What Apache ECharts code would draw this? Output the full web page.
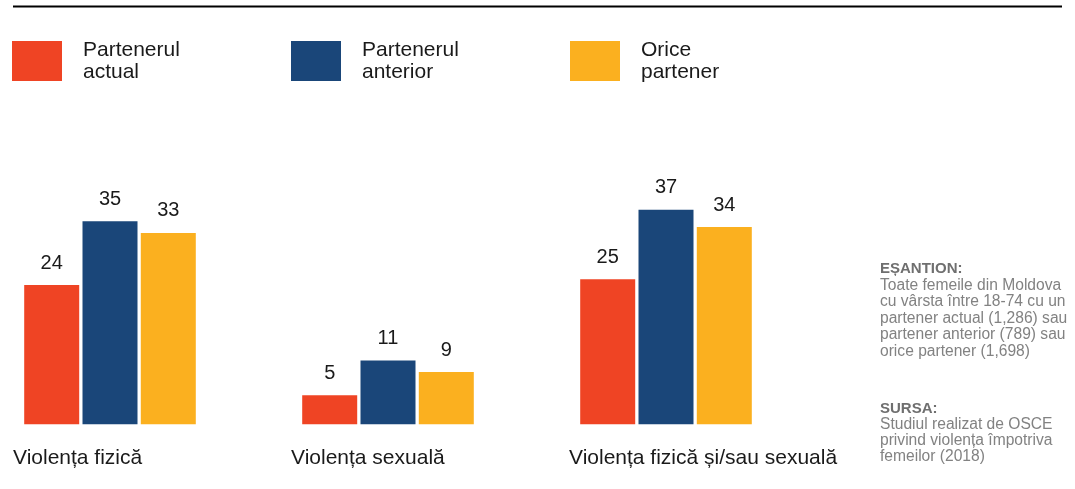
<!DOCTYPE html>
<html>
<head>
<meta charset="utf-8">
<script src="https://cdn.jsdelivr.net/npm/echarts@6/dist/echarts.min.js"></script>
<style>
  html, body { margin: 0; padding: 0; background: #fff; }
  #chart { width: 1075px; height: 489px; }
</style>
</head>
<body>
<div id="chart"></div>
<script>
// date
var categories = ['Violența fizică', 'Violența sexuală', 'Violența fizică și/sau sexuală'];
var seriesNames = ['Partenerul\nactual', 'Partenerul\nanterior', 'Orice\npartener'];
var actual = [24, 5, 25];
var anterior = [35, 11, 37];
var orice = [33, 9, 34];
var colors = ['#EF4424', '#1A4679', '#FBB01F'];

var font = "'Liberation Sans', Arial, sans-serif";

var chart = echarts.init(document.getElementById('chart'));

function makeSeries(name, data, color) {
  return {
    name: name,
    type: 'bar',
    data: data,
    barWidth: 55,
    barGap: '6%',
    clip: false,
    itemStyle: { color: color },
    label: {
      show: true,
      position: 'top',
      distance: 12,
      color: '#1a1a1a',
      fontSize: 20,
      fontFamily: font
    },
    silent: true
  };
}

function makeLegend(name, left) {
  return {
    data: [name],
    left: left,
    top: 39,
    padding: 0,
    icon: 'rect',
    itemWidth: 50,
    itemHeight: 40,
    selectedMode: false,
    textStyle: {
      fontSize: 21,
      lineHeight: 22,
      color: '#1a1a1a',
      fontFamily: font,
      padding: [0, 0, 0, 16]
    }
  };
}

var option = {
  animation: false,
  backgroundColor: '#fff',
  legend: [
    makeLegend(seriesNames[0], 12),
    makeLegend(seriesNames[1], 291),
    makeLegend(seriesNames[2], 570)
  ],
  grid: {
    left: 110,
    width: 556,
    top: 76.3,
    bottom: 64.7,
    containLabel: false
  },
  xAxis: {
    type: 'category',
    data: categories,
    boundaryGap: false,
    axisLine: { show: false },
    axisTick: { show: false },
    splitLine: { show: false },
    axisLabel: {
      interval: 0,
      margin: 23,
      formatter: function (v) { return '{a|' + v + '}'; },
      rich: {
        a: {
          width: 194,
          align: 'left',
          fontSize: 21,
          color: '#1a1a1a',
          fontFamily: font
        }
      }
    }
  },
  yAxis: {
    type: 'value',
    min: 0,
    max: 60,
    show: false,
    splitLine: { show: false }
  },
  series: [
    makeSeries(seriesNames[0], actual, colors[0]),
    makeSeries(seriesNames[1], anterior, colors[1]),
    makeSeries(seriesNames[2], orice, colors[2])
  ],
  graphic: [
    {
      type: 'line',
      shape: { x1: 13, y1: 6.5, x2: 1062, y2: 6.5 },
      style: { stroke: '#000', lineWidth: 2 }
    },
    {
      type: 'text',
      left: 880,
      top: 261,
      style: {
        text: 'EȘANTION:',
        font: 'bold 15px ' + font,
        fill: '#6f6f6f'
      }
    },
    {
      type: 'text',
      left: 880,
      top: 277,
      style: {
        text: 'Toate femeile din Moldova\ncu vârsta între 18-74 cu un\npartener actual (1,286) sau\npartener anterior (789) sau\norice partener (1,698)',
        font: '15.6px ' + font,
        lineHeight: 16.5,
        fill: '#828282'
      }
    },
    {
      type: 'text',
      left: 880,
      top: 401,
      style: {
        text: 'SURSA:',
        font: 'bold 15px ' + font,
        fill: '#6f6f6f'
      }
    },
    {
      type: 'text',
      left: 880,
      top: 417,
      style: {
        text: 'Studiul realizat de OSCE\nprivind violența împotriva\nfemeilor (2018)',
        font: '15.6px ' + font,
        lineHeight: 16,
        fill: '#828282'
      }
    }
  ]
};

chart.setOption(option);
</script>
</body>
</html>
